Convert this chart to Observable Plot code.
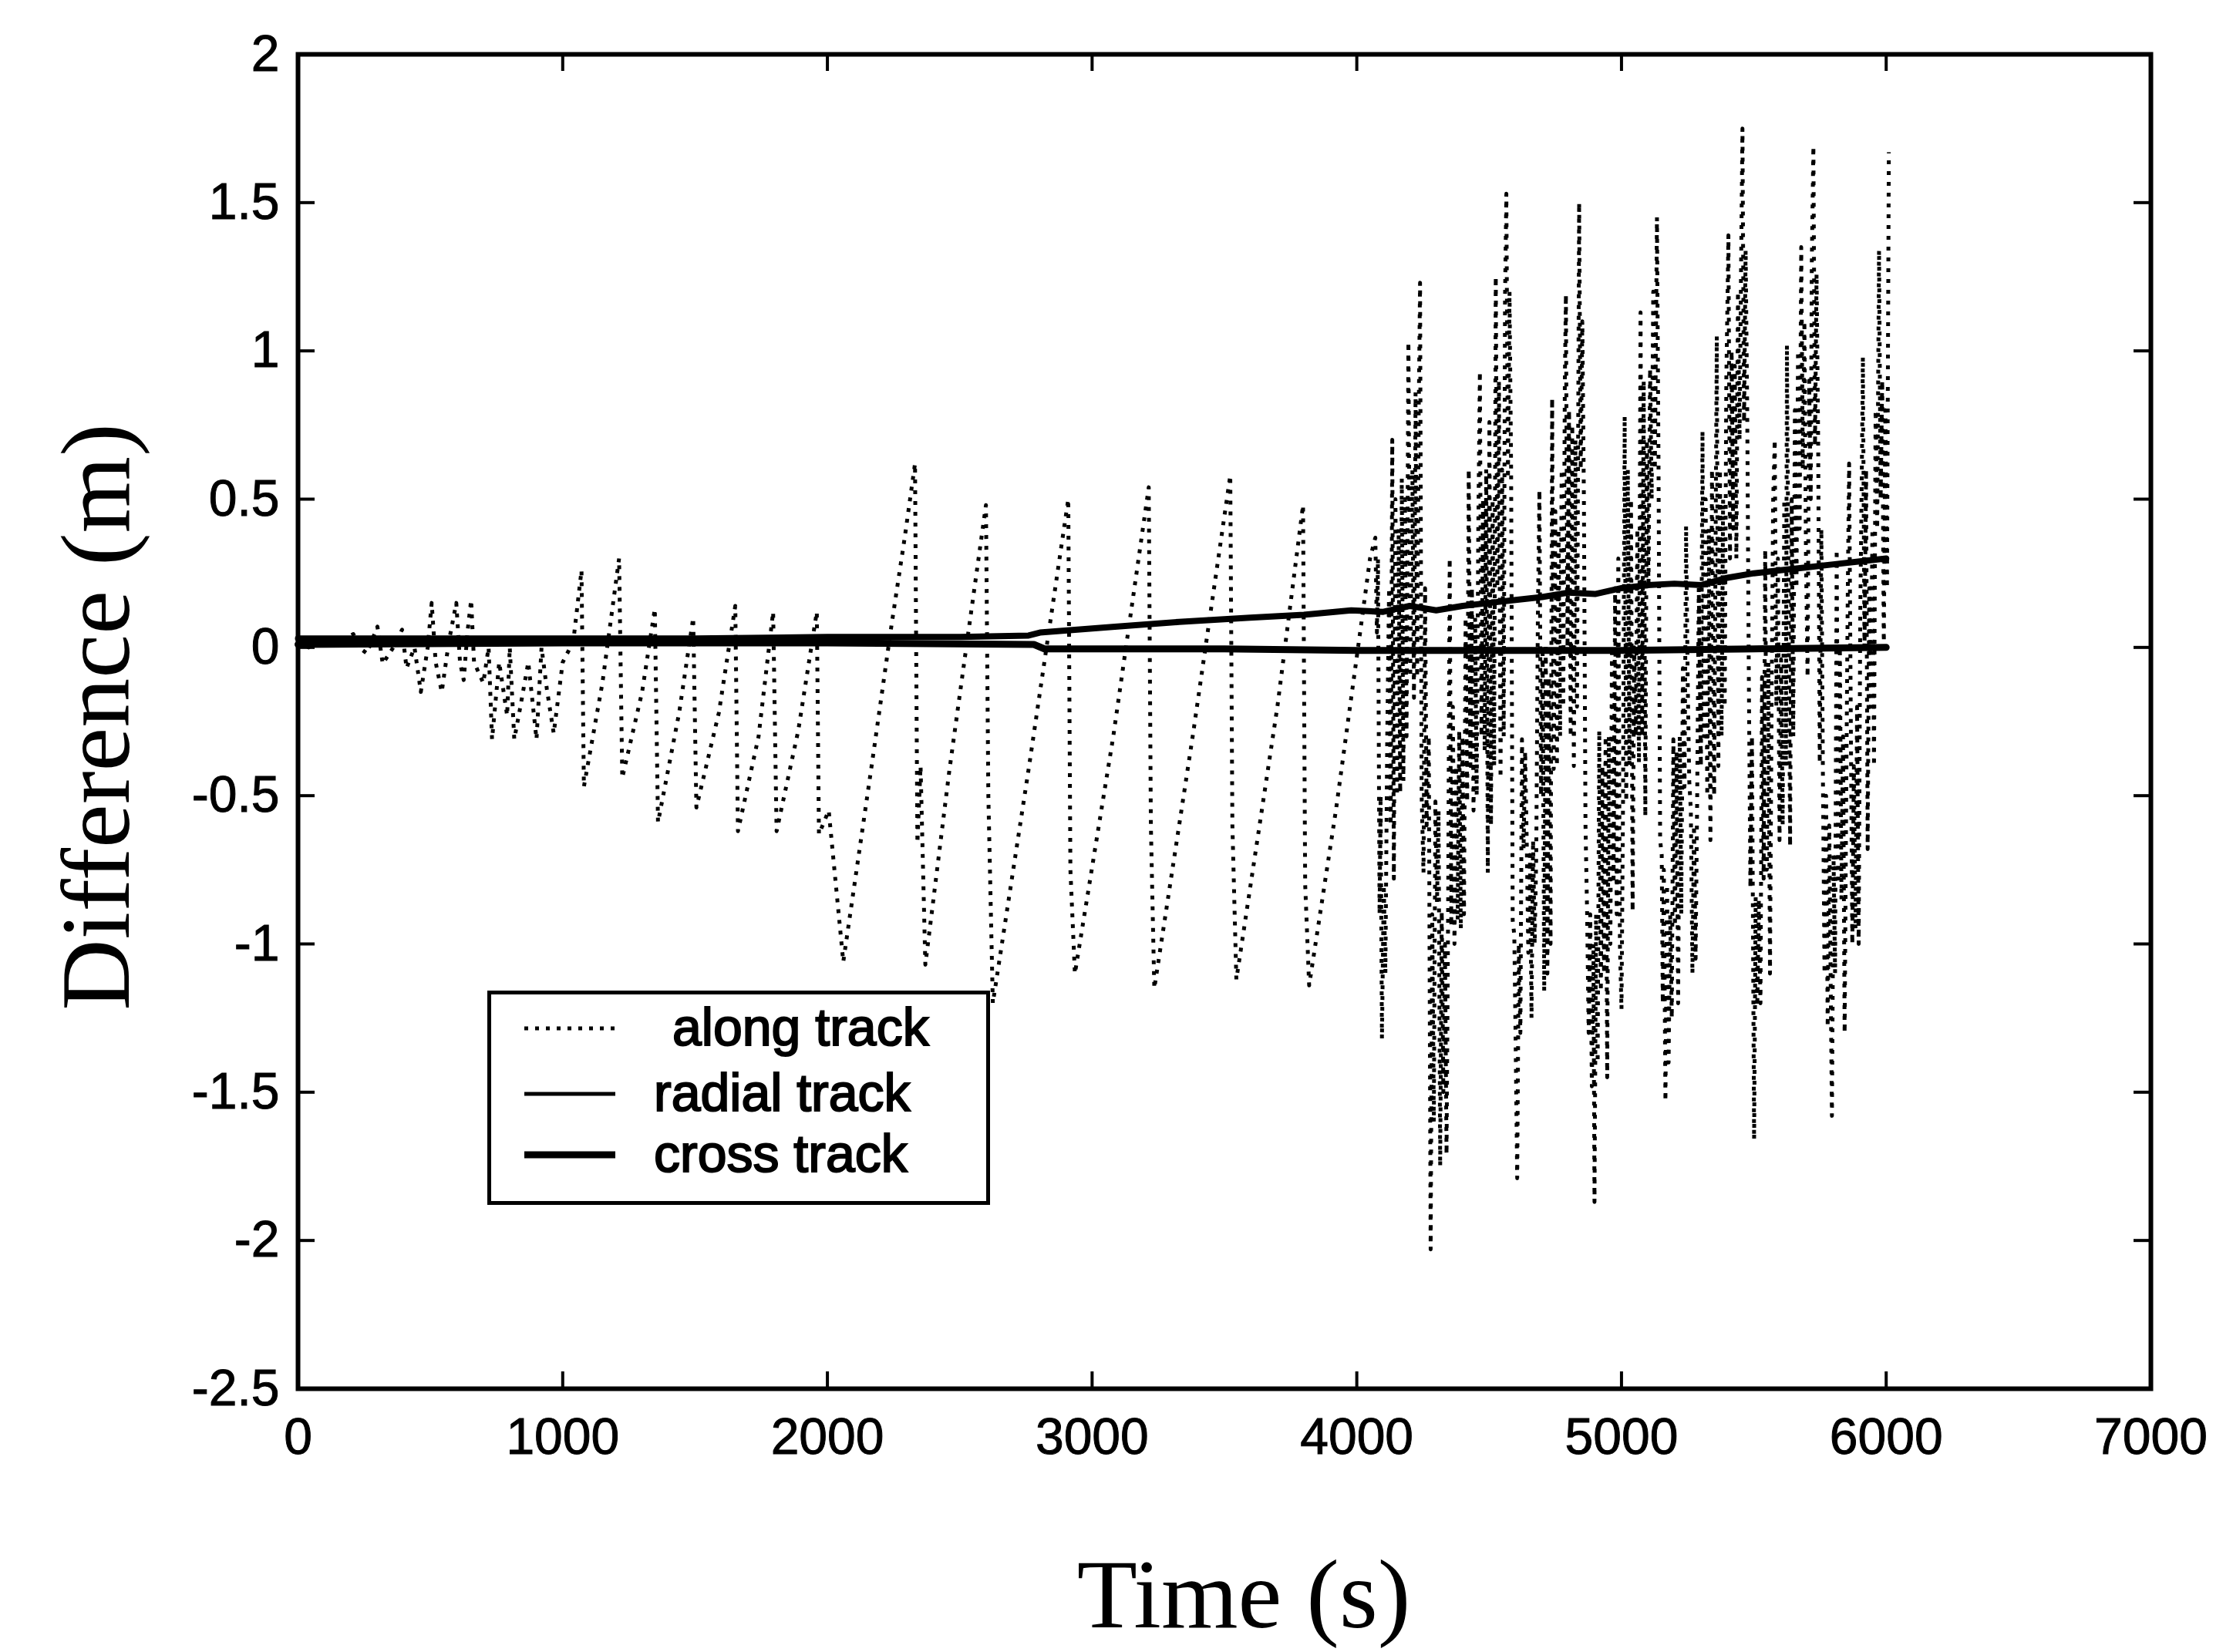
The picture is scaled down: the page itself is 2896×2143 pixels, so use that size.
<!DOCTYPE html>
<html>
<head>
<meta charset="utf-8">
<script src="https://cdn.jsdelivr.net/npm/d3@7"></script>
<script src="https://cdn.jsdelivr.net/npm/@observablehq/plot@0.6"></script>
<style>
  html, body { margin: 0; padding: 0; background: #fff; }
  #wrap { position: relative; width: 2896px; height: 2143px; overflow: hidden; background: #fff; }
  #legend { position: absolute; left: 632px; top: 1285px; }
  #wrap g[aria-label="x-axis tick label"] text, #wrap g[aria-label="y-axis tick label"] text { stroke: black; stroke-width: 1px; }
</style>
</head>
<body>
<div id="wrap"></div>
<script>
// ---------- data ----------
const xTicks = [0, 1000, 2000, 3000, 4000, 5000, 6000, 7000];
const yTicks = [-2.5, -2, -1.5, -1, -0.5, 0, 0.5, 1, 1.5, 2];
const xTitle = "Time (s)";
const yTitle = "Difference (m)";
const legendLabels = [" along track", "radial track", "cross track"];

// along track [time s, difference m]
const alongTrack = [
  [0,0.02],[40,0.0],[80,0.03],[120,0.0],[160,0.02],[209,0.045],[230,0.0],[260,-0.02],[300,0.07],[320,-0.055],
  [360,0.0],[393,0.06],[410,-0.07],[440,0.0],[464,-0.15],[490,0.0],[505,0.15],[520,-0.05],[543,-0.15],[570,0.02],
  [598,0.15],[612,-0.05],[626,-0.11],[640,0.05],[654,0.16],[665,-0.05],[700,-0.12],[720,0.0],[733,-0.31],[760,-0.05],
  [790,-0.23],[800,0.0],[817,-0.31],[840,-0.2],[870,-0.05],[901,-0.31],[920,0.0],[940,-0.14],[966,-0.29],[1000,-0.05],
  [1040,0.02],[1071,0.26],[1080,-0.47],[1150,-0.12],[1213,0.30],[1225,-0.44],[1300,-0.15],[1348,0.13],[1360,-0.59],
  [1440,-0.22],[1493,0.10],[1505,-0.54],[1590,-0.22],[1652,0.14],[1662,-0.62],[1740,-0.3],[1795,0.12],[1808,-0.62],
  [1890,-0.28],[1960,0.12],[1968,-0.63],[2005,-0.55],[2060,-1.06],
  [2167,-0.40],[2243,0.08],[2292,0.37],[2331,0.62],[2340,-0.66],[2352,-0.4],[2370,-1.07],[2460,-0.42],[2540,0.1],
  [2599,0.48],[2608,-0.5],[2625,-1.2],[2762,-0.4],[2910,0.50],[2918,-0.75],[2935,-1.1],[3080,-0.3],[3214,0.54],
  [3222,-0.6],[3235,-1.15],[3380,-0.3],[3522,0.58],[3530,-0.6],[3545,-1.12],[3700,-0.2],[3797,0.48],[3805,-0.8],
  [3820,-1.14],[3921,-0.55],[4020,0.1],[4050,0.3],[4070,0.37],
  [4076,0.05],[4080,0.30],[4086,-0.9],[4090,-0.5],[4095,-1.32],[4102,-0.8],[4108,-1.1],[4115,-0.3],[4122,0.2],[4128,-0.6],
  [4134,0.70],[4140,-0.78],[4146,0.5],[4152,-0.5],[4158,0.4],[4164,-0.49],[4170,0.57],[4176,-0.45],[4182,0.5],[4188,-0.3],
  [4195,1.03],[4202,-0.1],[4210,0.6],[4216,-0.17],[4222,0.86],[4228,-0.1],[4234,0.8],[4239,1.23],[4245,-0.5],[4252,-0.76],
  [4258,0.2],[4264,-0.6],[4272,-0.3],[4279,-2.03],[4285,-0.9],[4291,-1.6],[4297,-0.52],[4303,-0.86],[4309,-0.55],[4315,-1.75],
  [4321,-0.89],[4327,-1.5],[4333,-1.0],[4339,-1.71],[4345,-0.9],[4351,0.30],[4357,-0.94],[4363,-0.2],[4369,-1.0],[4375,-0.4],
  [4381,-0.92],[4387,-0.28],[4393,-0.95],[4399,-0.3],[4405,-0.9],[4411,0.1],[4417,-0.52],[4423,0.6],[4429,-0.4],[4435,0.2],
  [4441,-0.55],[4447,0.1],[4453,-0.5],[4459,0.4],[4465,0.93],[4471,-0.3],[4477,0.5],[4483,-0.35],[4489,0.6],[4495,-0.76],
  [4501,0.76],[4507,-0.6],[4513,0.5],[4519,-0.4],[4525,1.25],[4531,0.2],[4537,0.9],[4543,-0.44],[4549,0.6],[4555,-0.3],
  [4560,1.18],[4565,1.53],[4571,0.57],[4577,1.2],[4583,0.6],[4589,-0.92],[4595,-0.97],[4600,-1.32],[4606,-1.79],[4612,-1.0],
  [4618,-1.3],[4624,-0.31],[4630,-0.68],[4636,-0.35],[4642,-0.65],[4648,-1.03],[4654,-0.7],[4660,-1.25],[4666,-0.65],[4672,-1.0],
  [4678,-0.7],[4684,0.1],[4690,0.53],[4696,-0.5],[4702,0.0],[4708,-1.16],[4714,0.01],[4720,-1.1],[4726,-0.1],[4732,-1.0],
  [4738,0.84],[4744,-0.41],[4750,0.46],[4756,-0.4],[4762,0.4],[4768,-0.3],[4774,0.6],[4780,-0.2],[4786,0.9],[4790,1.19],
  [4796,0.0],[4802,0.8],[4808,-0.3],[4814,0.75],[4820,-0.4],[4826,0.7],[4832,-0.2],[4840,1.50],[4846,0.6],[4852,1.1],
  [4858,0.5],[4864,-0.60],[4870,-0.89],[4876,-1.3],[4882,-0.9],[4888,-1.48],[4894,-1.0],[4898,-1.87],[4904,-0.9],[4910,-1.4],
  [4916,-0.28],[4922,-1.16],[4928,-0.4],[4934,-1.1],[4940,-0.3],[4946,-1.45],[4952,-0.3],[4958,-1.0],[4964,0.0],[4970,-0.78],
  [4976,0.2],[4982,-0.9],[4988,0.3],[4994,-1.0],[5000,-1.22],[5006,-0.5],[5012,0.78],[5018,-0.52],[5024,0.6],[5030,-0.4],
  [5036,0.5],[5042,-0.89],[5048,0.0],[5054,-0.3],[5060,0.4],[5066,-0.39],[5072,1.13],[5078,-0.3],[5084,0.9],[5090,-0.57],
  [5096,0.7],[5102,0.2],[5108,0.94],[5114,0.5],[5120,1.2],[5126,0.6],[5134,1.45],[5140,0.6],[5146,-0.65],[5152,-0.70],
  [5156,-1.2],[5160,-0.75],[5166,-1.53],[5172,-0.8],[5178,-1.4],[5184,-0.9],[5190,-1.25],[5196,-0.31],[5202,-0.94],[5208,-0.35],
  [5214,-1.2],[5220,-0.3],[5226,-0.9],[5232,-0.07],[5238,-0.47],[5244,0.41],[5250,-0.1],[5256,-0.45],[5262,-0.55],[5268,-1.1],
  [5274,-0.6],[5280,-1.05],[5286,-0.5],[5292,0.2],[5300,-0.4],[5306,0.73],[5312,-0.3],[5318,0.5],[5324,-0.5],[5330,0.4],
  [5336,-0.65],[5342,0.6],[5350,-0.5],[5360,1.05],[5366,-0.4],[5372,0.6],[5378,-0.3],[5384,0.5],[5390,-0.2],[5396,0.9],
  [5404,1.39],[5410,0.3],[5416,1.0],[5422,0.4],[5428,0.95],[5434,0.3],[5440,1.2],[5446,0.7],[5452,1.3],[5457,1.75],
  [5463,0.76],[5469,1.34],[5475,0.8],[5481,-0.09],[5487,-0.81],[5493,-0.3],[5501,-1.66],[5507,-0.84],[5513,-1.21],[5519,-0.85],
  [5525,-1.2],[5531,-0.1],[5537,-0.78],[5543,0.33],[5549,-0.75],[5555,-0.05],[5561,-1.1],[5567,-0.2],[5573,0.5],[5579,0.70],
  [5585,-0.2],[5591,0.3],[5597,-0.65],[5603,-0.04],[5609,-0.6],[5615,0.5],[5621,-0.4],[5625,1.02],[5631,0.2],[5637,-0.67],
  [5643,0.5],[5649,-0.3],[5655,0.8],[5661,0.2],[5667,1.0],[5673,0.4],[5679,1.35],[5685,0.6],[5691,1.1],[5697,0.3],
  [5703,-0.1],[5709,0.9],[5715,0.5],[5719,1.3],[5725,1.69],[5731,0.68],[5737,1.26],[5743,0.7],[5749,-0.39],[5755,0.4],
  [5761,-0.44],[5767,-1.1],[5773,-0.5],[5779,-1.28],[5785,-0.6],[5791,-1.2],[5795,-1.58],[5801,-0.7],[5807,-1.1],[5813,0.33],
  [5819,-0.78],[5825,0.0],[5831,-0.85],[5837,-0.3],[5843,-1.3],[5849,-0.5],[5855,0.2],[5860,0.62],[5866,-0.2],[5872,-1.0],
  [5878,-0.4],[5884,-0.95],[5890,-0.2],[5896,-1.0],[5902,0.1],[5908,0.6],[5912,0.98],[5918,0.0],[5924,0.6],[5930,-0.68],
  [5936,0.2],[5942,-0.2],[5948,0.4],[5954,-0.4],[5960,0.8],[5966,0.4],[5973,1.34],[5979,0.5],[5985,0.9],[5991,0.0],
  [5997,0.8],[6003,0.2],[6010,1.67]
];

// radial track [time s, difference m]
const radialTrack = [
  [0,0.03],[500,0.03],[1000,0.03],[1500,0.03],[2000,0.035],[2500,0.035],[2760,0.04],[2803,0.05],[3086,0.07],
  [3328,0.086],[3597,0.10],[3800,0.11],[3979,0.125],[4100,0.12],[4200,0.14],[4300,0.125],[4400,0.14],[4500,0.15],
  [4600,0.16],[4700,0.17],[4800,0.185],[4900,0.18],[5000,0.2],[5100,0.21],[5200,0.215],[5300,0.21],[5400,0.235],
  [5500,0.25],[5600,0.26],[5700,0.27],[5800,0.28],[5900,0.29],[6000,0.30]
];

// cross track [time s, difference m]
const crossTrack = [
  [0,0.01],[1000,0.015],[2000,0.015],[2780,0.01],[2820,-0.005],[3500,-0.005],[4000,-0.01],[5000,-0.01],[5500,-0.005],[6000,0.0]
];

// ---------- chart ----------
const W = 2896, H = 2143;
const mL = 386, mR = 107, mT = 70, mB = 342;
const frameW = W - mL - mR, frameH = H - mT - mB;
const tickLen = 22;
const serif = "'Liberation Serif', 'Times New Roman', Times, serif";
const sans = "'Liberation Sans', Arial, Helvetica, sans-serif";

const chart = Plot.plot({
  width: W, height: H,
  marginLeft: mL, marginRight: mR, marginTop: mT, marginBottom: mB,
  style: {fontFamily: sans, fontSize: "66px", background: "white", color: "black"},
  x: {domain: [0, 7000]},
  y: {domain: [-2.5, 2]},
  marks: [
    Plot.line(alongTrack, {x: d => d[0], y: d => d[1], stroke: "black", strokeWidth: 5,
      strokeDasharray: "5,9", strokeLinejoin: "round", strokeLinecap: "butt"}),
    Plot.line(radialTrack, {x: d => d[0], y: d => d[1], stroke: "black", strokeWidth: 8, strokeLinejoin: "round"}),
    Plot.line(crossTrack, {x: d => d[0], y: d => d[1], stroke: "black", strokeWidth: 9, strokeLinejoin: "round"}),
    // inward ticks on all four sides
    Plot.ruleX(xTicks, {x: d => d, insetTop: frameH - tickLen, stroke: "black", strokeWidth: 4}),
    Plot.ruleX(xTicks, {x: d => d, insetBottom: frameH - tickLen, stroke: "black", strokeWidth: 4}),
    Plot.ruleY(yTicks, {y: d => d, insetRight: frameW - tickLen, stroke: "black", strokeWidth: 4}),
    Plot.ruleY(yTicks, {y: d => d, insetLeft: frameW - tickLen, stroke: "black", strokeWidth: 4}),
    Plot.frame({stroke: "black", strokeWidth: 6}),
    Plot.axisX(xTicks, {tickSize: 0, tickPadding: 38, tickFormat: d => String(d), label: null}),
    Plot.axisY(yTicks, {tickSize: 0, tickPadding: 24, tickFormat: d => String(d), label: null}),
    Plot.text([xTitle], {text: d => d, frameAnchor: "bottom", dx: 25, dy: 269, fontSize: 128,
      fontFamily: serif, textAnchor: "middle", lineAnchor: "middle"}),
    Plot.text([yTitle], {text: d => d, frameAnchor: "left", rotate: -90, dx: -260, dy: -6, fontSize: 128,
      fontFamily: serif, textAnchor: "middle", lineAnchor: "middle"})
  ]
});
document.getElementById("wrap").appendChild(chart);

// ---------- legend ----------
const ns = "http://www.w3.org/2000/svg";
const lg = document.createElementNS(ns, "svg");
lg.setAttribute("id", "legend");
lg.setAttribute("width", 652);
lg.setAttribute("height", 278);
const styles = [
  {dash: "5,9", w: 5},
  {dash: null, w: 5},
  {dash: null, w: 9}
];
const rowY = [49, 134, 213];
const textX = [240, 216, 216];
let html = `<rect x="2.5" y="2.5" width="647" height="273" fill="white" stroke="black" stroke-width="5"/>`;
legendLabels.forEach((lab, i) => {
  const s = styles[i];
  html += `<line x1="48" x2="166" y1="${rowY[i]}" y2="${rowY[i]}" stroke="black" stroke-width="${s.w}" ${s.dash ? `stroke-dasharray="${s.dash}"` : ""}/>`;
  html += `<text x="${textX[i]}" y="${rowY[i] + 22}" font-family="${sans.replace(/"/g, "")}" font-size="68" fill="black" stroke="black" stroke-width="2">${lab.trim()}</text>`;
});
lg.innerHTML = html;
document.getElementById("wrap").appendChild(lg);
</script>
</body>
</html>
